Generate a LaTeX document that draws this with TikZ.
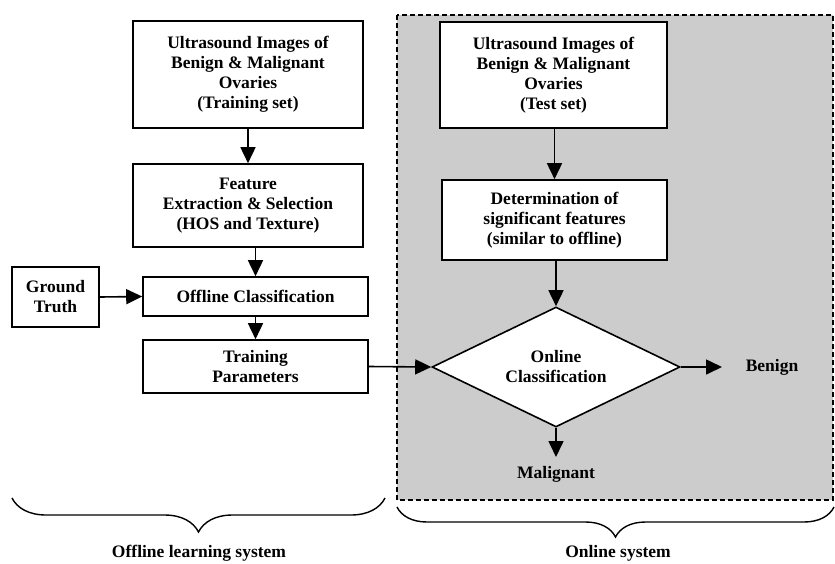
\documentclass[tikz,border=0pt]{standalone}
\usepackage{fontspec}
\setmainfont{Liberation Serif}
\usetikzlibrary{arrows.meta,shapes.geometric,decorations.pathreplacing}
\begin{document}
\begin{tikzpicture}[x=1pt,y=-1pt,
  box/.style={draw=black,line width=1.6pt,fill=white,align=center,inner sep=0pt,
    font=\fontsize{17.5}{20}\selectfont\bfseries},
  lbl/.style={align=center,inner sep=0pt,font=\fontsize{17.5}{20}\selectfont\bfseries},
  arr/.style={line width=1.6pt,-{Triangle[length=16pt,width=15pt]}},
  brc/.style={line width=1.4pt,decorate,decoration={brace,mirror}}]
\useasboundingbox (0,0) rectangle (835,563);
% online region
\draw[fill=gray!40,line width=1.4pt,dash pattern=on 5pt off 3pt] (397,15) rectangle (833,500);
% offline nodes
\node[box,minimum width=230pt,minimum height=107pt] (b1) at (248,74.5)
  {Ultrasound Images of\\Benign \& Malignant\\Ovaries\\(Training set)};
\node[box,minimum width=230pt,minimum height=83pt] (b2) at (248,205.5)
  {Feature\\Extraction \& Selection\\(HOS and Texture)};
\node[box,minimum width=225pt,minimum height=39pt] (b3) at (255.5,296.5)
  {Offline Classification};
\node[box,minimum width=87pt,minimum height=60pt] (gt) at (55.5,297)
  {Ground\\Truth};
\node[box,minimum width=225pt,minimum height=53pt] (b4) at (255.5,366.5)
  {Training\\Parameters};
% online nodes
\node[box,minimum width=227pt,minimum height=106pt] (b5) at (553.5,75)
  {Ultrasound Images of\\Benign \& Malignant\\Ovaries\\(Test set)};
\node[box,minimum width=225pt,minimum height=80pt] (b6) at (554.5,220)
  {Determination of\\significant features\\(similar to offline)};
\node[box,diamond,aspect=2,minimum width=248pt,minimum height=120pt] (d) at (556,367)
  {Online\\Classification};
\node[lbl] (ben) at (772,367) {Benign};
\node[lbl] (mal) at (556,474) {Malignant};
\coordinate (benend) at (722,367);
\coordinate (malend) at (556,457);
% connectors
\draw[arr] (b1.south) -- (b2.north);
\draw[arr] (b3.north |- b2.south) -- (b3.north);
\draw[arr] (gt.east) -- (b3.west);
\draw[arr] (b3.south) -- (b4.north);
\draw[arr] (b4.east) -- (d.west);
\draw[arr] (b6.north |- b5.south) -- (b6.north);
\draw[arr] (d.north |- b6.south) -- (d.north);
\draw[arr] (d.east) -- (benend);
\draw[arr] (d.south) -- (malend);
% braces
\draw[brc,decoration={amplitude=34pt}] (12,498) -- (385,498);
\draw[brc,decoration={amplitude=30pt}] (397,507) -- (834,507);
\node[lbl] (offl) at (199,553) {Offline learning system};
\node[lbl] (onl) at (618,553) {Online system};
\end{tikzpicture}
\end{document}
